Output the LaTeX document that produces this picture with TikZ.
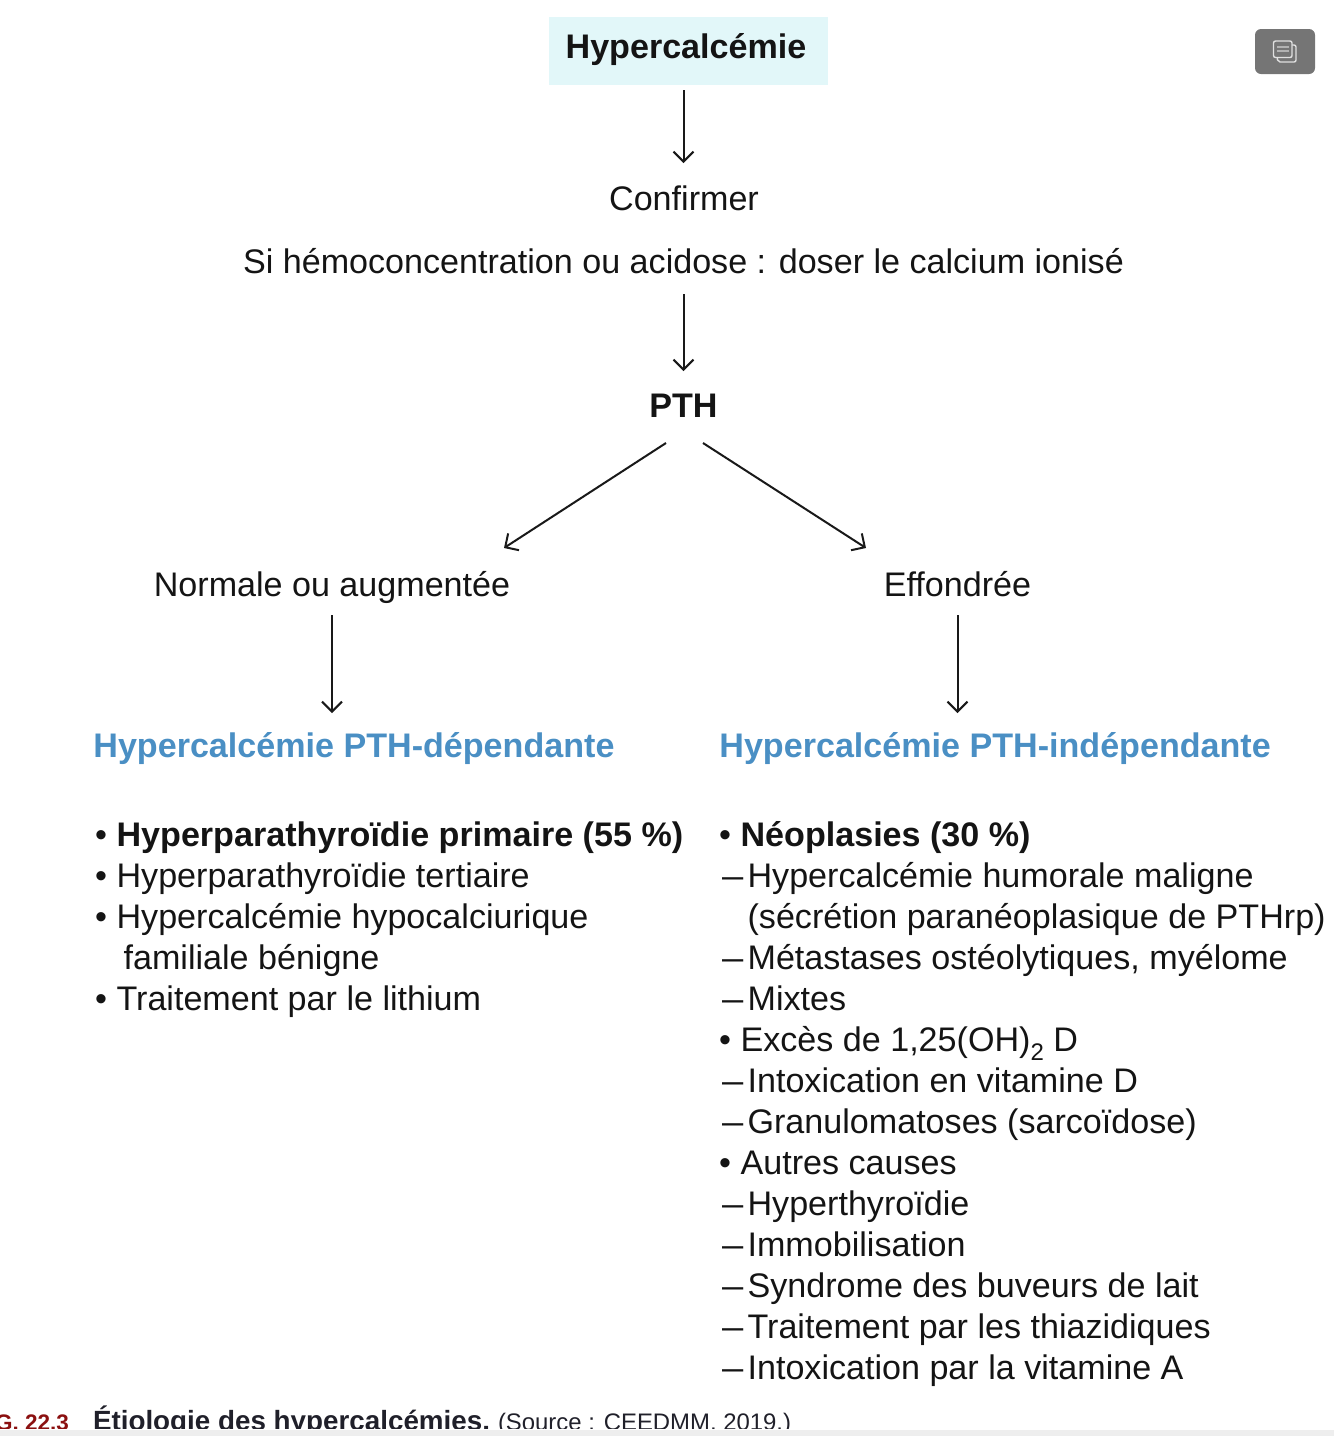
\documentclass[tikz,border=0pt]{standalone}
\usepackage{fontspec}
\setmainfont{Liberation Sans}
\usetikzlibrary{arrows.meta}
\definecolor{boxc}{HTML}{E2F7F9}
\definecolor{titleb}{HTML}{4A8FC4}
\definecolor{figr}{HTML}{8B1010}
\definecolor{capt}{HTML}{20202A}
\definecolor{iconc}{HTML}{757575}
\definecolor{barc}{HTML}{EEEEEE}
\tikzset{
  x=1pt,y=-1pt,
  txt/.style={inner sep=0pt,outer sep=0pt,font=\fontsize{34.1}{38}\selectfont,text=black!92},
  mid/.style={txt,anchor=base},
  lft/.style={txt,anchor=base west},
  bld/.style={font=\fontsize{34.1}{38}\selectfont\bfseries},
  ttl/.style={lft,font=\fontsize{34.1}{38}\selectfont\bfseries,text=titleb},
  arr/.style={draw=black!90,line width=2pt,-{Straight Barb[length=10pt,width=20pt,line width=2pt]}},
  bmark/.style={lft},
  dmark/.style={lft,xscale=1.12},
}
\begin{document}
\begin{tikzpicture}
\useasboundingbox (0,0) rectangle (1334,1436);
\clip (0,0) rectangle (1334,1436);
\node[fill=boxc,minimum width=279pt,minimum height=68pt,inner sep=0pt,outer sep=0pt] (hyper) at (688.5,51) {};
\node[mid,bld] (hypert) at (686,58.6) {Hypercalcémie};
\node[mid] (conf) at (684,210.5) {Confirmer};
\node[mid] (si) at (683.5,273.6) {Si hémoconcentration ou acidose : doser le calcium ionisé};
\node[mid,bld] (pth) at (683.5,417.4) {PTH};
\node[mid] (norm) at (332,596) {Normale ou augmentée};
\node[mid] (eff) at (957.5,596) {Effondrée};
\node[ttl] (dep) at (93.4,757.8) {Hypercalcémie PTH-dépendante};
\node[ttl] (indep) at (719.4,757.8) {Hypercalcémie PTH-indépendante};
% connectors
\coordinate (a1) at (683.5,90); \coordinate (a2) at (683.5,163);
\coordinate (b1) at (683.5,294); \coordinate (b2) at (683.5,371);
\coordinate (c1) at (666,443); \coordinate (c2) at (504,548);
\coordinate (d1) at (703,443); \coordinate (d2) at (866,548);
\coordinate (e1) at (332,615); \coordinate (e2) at (332,713);
\coordinate (f1) at (957.5,615); \coordinate (f2) at (957.5,713);
\draw[arr] (a1) -- (a2);
\draw[arr] (b1) -- (b2);
\draw[arr] (c1) -- (c2);
\draw[arr] (d1) -- (d2);
\draw[arr] (e1) -- (e2);
\draw[arr] (f1) -- (f2);
% left list
\node[bmark] (lb1) at (95,846.8) {•};
\node[lft,bld] (l1) at (116.6,846.8) {Hyperparathyroïdie primaire (55 \%)};
\node[bmark] (lb2) at (95,887.8) {•};
\node[lft] (l2) at (116.6,887.8) {Hyperparathyroïdie tertiaire};
\node[bmark] (lb3) at (95,928.8) {•};
\node[lft] (l3) at (116.6,928.8) {Hypercalcémie hypocalciurique};
\node[lft] (l3b) at (123.6,969.8) {familiale bénigne};
\node[bmark] (lb4) at (95,1010.8) {•};
\node[lft] (l4) at (116.6,1010.8) {Traitement par le lithium};
% right list
\node[bmark] (rb1) at (719,846.8) {•};
\node[lft,bld] (r1) at (740.6,846.8) {Néoplasies (30 \%)};
\node[dmark] (rd2) at (722,887.8) {–};
\node[lft] (r2) at (747.6,887.8) {Hypercalcémie humorale maligne};
\node[lft] (r2b) at (747.6,928.8) {(sécrétion paranéoplasique de PTHrp)};
\node[dmark] (rd3) at (722,969.8) {–};
\node[lft] (r3) at (747.6,969.8) {Métastases ostéolytiques, myélome};
\node[dmark] (rd4) at (722,1010.8) {–};
\node[lft] (r4) at (747.6,1010.8) {Mixtes};
\node[bmark] (rb5) at (719,1051.8) {•};
\node[lft] (r5) at (740.6,1051.8) {Excès de 1,25(OH)\raisebox{-9pt}{\fontsize{24}{24}\selectfont 2} D};
\node[dmark] (rd6) at (722,1092.8) {–};
\node[lft] (r6) at (747.6,1092.8) {Intoxication en vitamine D};
\node[dmark] (rd7) at (722,1133.8) {–};
\node[lft] (r7) at (747.6,1133.8) {Granulomatoses (sarcoïdose)};
\node[bmark] (rb8) at (719,1174.8) {•};
\node[lft] (r8) at (740.6,1174.8) {Autres causes};
\node[dmark] (rd9) at (722,1215.8) {–};
\node[lft] (r9) at (747.6,1215.8) {Hyperthyroïdie};
\node[dmark] (rd10) at (722,1256.8) {–};
\node[lft] (r10) at (747.6,1256.8) {Immobilisation};
\node[dmark] (rd11) at (722,1297.8) {–};
\node[lft] (r11) at (747.6,1297.8) {Syndrome des buveurs de lait};
\node[dmark] (rd12) at (722,1338.8) {–};
\node[lft] (r12) at (747.6,1338.8) {Traitement par les thiazidiques};
\node[dmark] (rd13) at (722,1379.8) {–};
\node[lft] (r13) at (747.6,1379.8) {Intoxication par la vitamine A};
% caption
\node[txt,anchor=base east,font=\fontsize{22.5}{26}\selectfont\bfseries,text=figr] (figl) at (69,1430) {G. 22.3};
\node[lft,font=\fontsize{27.8}{30}\selectfont\bfseries,text=capt] (capa) at (93,1430) {Étiologie des hypercalcémies.};
\node[lft,font=\fontsize{23.9}{26}\selectfont,text=capt] (capb) at (498,1430) {(Source : CEEDMM, 2019.)};
\fill[white] (0,1429) rectangle (1334,1436);
\fill[barc] (0,1430) rectangle (1334,1436);
% icon
\fill[iconc,rounded corners=6pt] (1255,29) rectangle (1315,74);
\draw[white!88!black,line width=1.4pt,rounded corners=2pt] (1277,46) -- (1277,57.5) -- (1278,62) -- (1296,62) -- (1296,45) -- (1292,45);
\draw[white!88!black,line width=1.4pt,fill=iconc,rounded corners=2pt] (1273.5,41) rectangle (1292,57.5);
\draw[white!70!black,line width=1.2pt] (1277,47) -- (1289,47) (1277,51) -- (1289,51);
\end{tikzpicture}
\end{document}
